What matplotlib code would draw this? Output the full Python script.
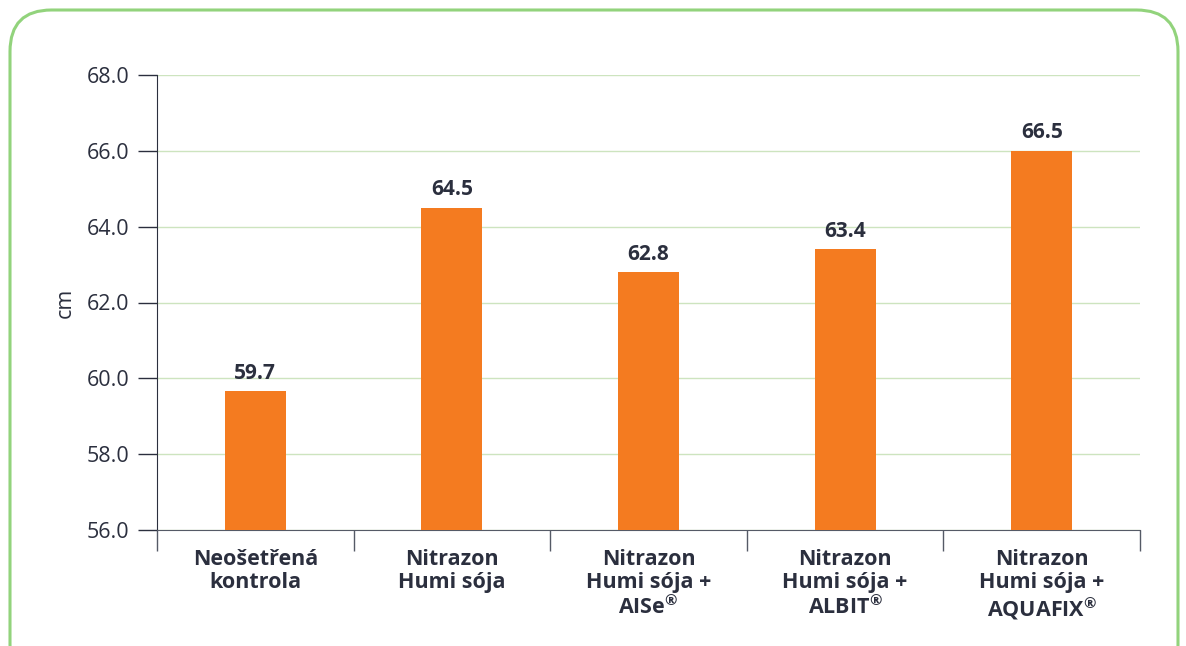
import numpy as np
import matplotlib
matplotlib.use("Agg")
import matplotlib.pyplot as plt
from matplotlib.patches import FancyBboxPatch

plt.rcParams['font.family'] = ['Open Sans', 'DejaVu Sans']
plt.rcParams['mathtext.fontset'] = 'custom'
plt.rcParams['mathtext.rm'] = 'Open Sans'
plt.rcParams['mathtext.bf'] = 'Open Sans:bold'

categories = ['Neošetřená\nkontrola', 'Nitrazon\nHumi sója',
              'Nitrazon\nHumi sója +\nAISe$^{\\mathbf{®}}$',
              'Nitrazon\nHumi sója +\nALBIT$^{\\mathbf{®}}$',
              'Nitrazon\nHumi sója +\nAQUAFIX$^{\\mathbf{®}}$']
values = [59.66, 64.5, 62.8, 63.4, 66.0]
value_labels = ['59.7', '64.5', '62.8', '63.4', '66.5']
yticks = [56.0, 58.0, 60.0, 62.0, 64.0, 66.0, 68.0]

text_col = '#2b2f3e'
bar_col = '#f47b20'
grid_col = '#cde4bf'

fig = plt.figure(figsize=(11.86, 6.46), dpi=100)
W, H = 1186, 646

# rounded green frame, bottom runs off the picture
frame = FancyBboxPatch((10 / W, -40 / H), 1168 / W, (646 + 40 - 10) / H,
                       boxstyle='round,pad=0,rounding_size=0.035',
                       transform=fig.transFigure, fill=False,
                       edgecolor='#92d37c', linewidth=2.2,
                       mutation_aspect=W / H)
fig.patches.append(frame)

ax = fig.add_axes([157 / W, 1 - 530 / H, (1140 - 157) / W, (530 - 75) / H])
x = np.arange(len(categories))
ax.bar(x, values, width=0.31, color=bar_col, zorder=3)

for xi, v, lab in zip(x, values, value_labels):
    ax.text(xi, v + 0.2, lab, ha='center', va='bottom', fontsize=15,
            fontweight='bold', color=text_col)

ax.set_xlim(-0.5, len(categories) - 0.5)
ax.set_ylim(56, 68)
ax.set_yticks(yticks)
ax.set_yticklabels([f'{t:.1f}' for t in yticks], fontsize=15.5, color=text_col)
ax.tick_params(axis='y', length=14, width=1, color=text_col, pad=6)

ax.set_xticks(x)
ax.set_xticklabels(categories, fontsize=15.5, fontweight='bold', color=text_col,
                   linespacing=1.1, va='top')
ax.tick_params(axis='x', which='major', length=0, pad=14)
ax.set_xticks(np.arange(-0.5, len(categories)), minor=True)
ax.tick_params(axis='x', which='minor', length=15, width=1, color='#555a66')

ax.grid(axis='y', color=grid_col, linewidth=1, zorder=0)
for s in ['top', 'right']:
    ax.spines[s].set_visible(False)
ax.spines['left'].set_color(text_col)
ax.spines['bottom'].set_color('#555a66')

ax.set_ylabel('cm', fontsize=15.5, color=text_col, labelpad=8)

fig.savefig('out.png', dpi=100)
